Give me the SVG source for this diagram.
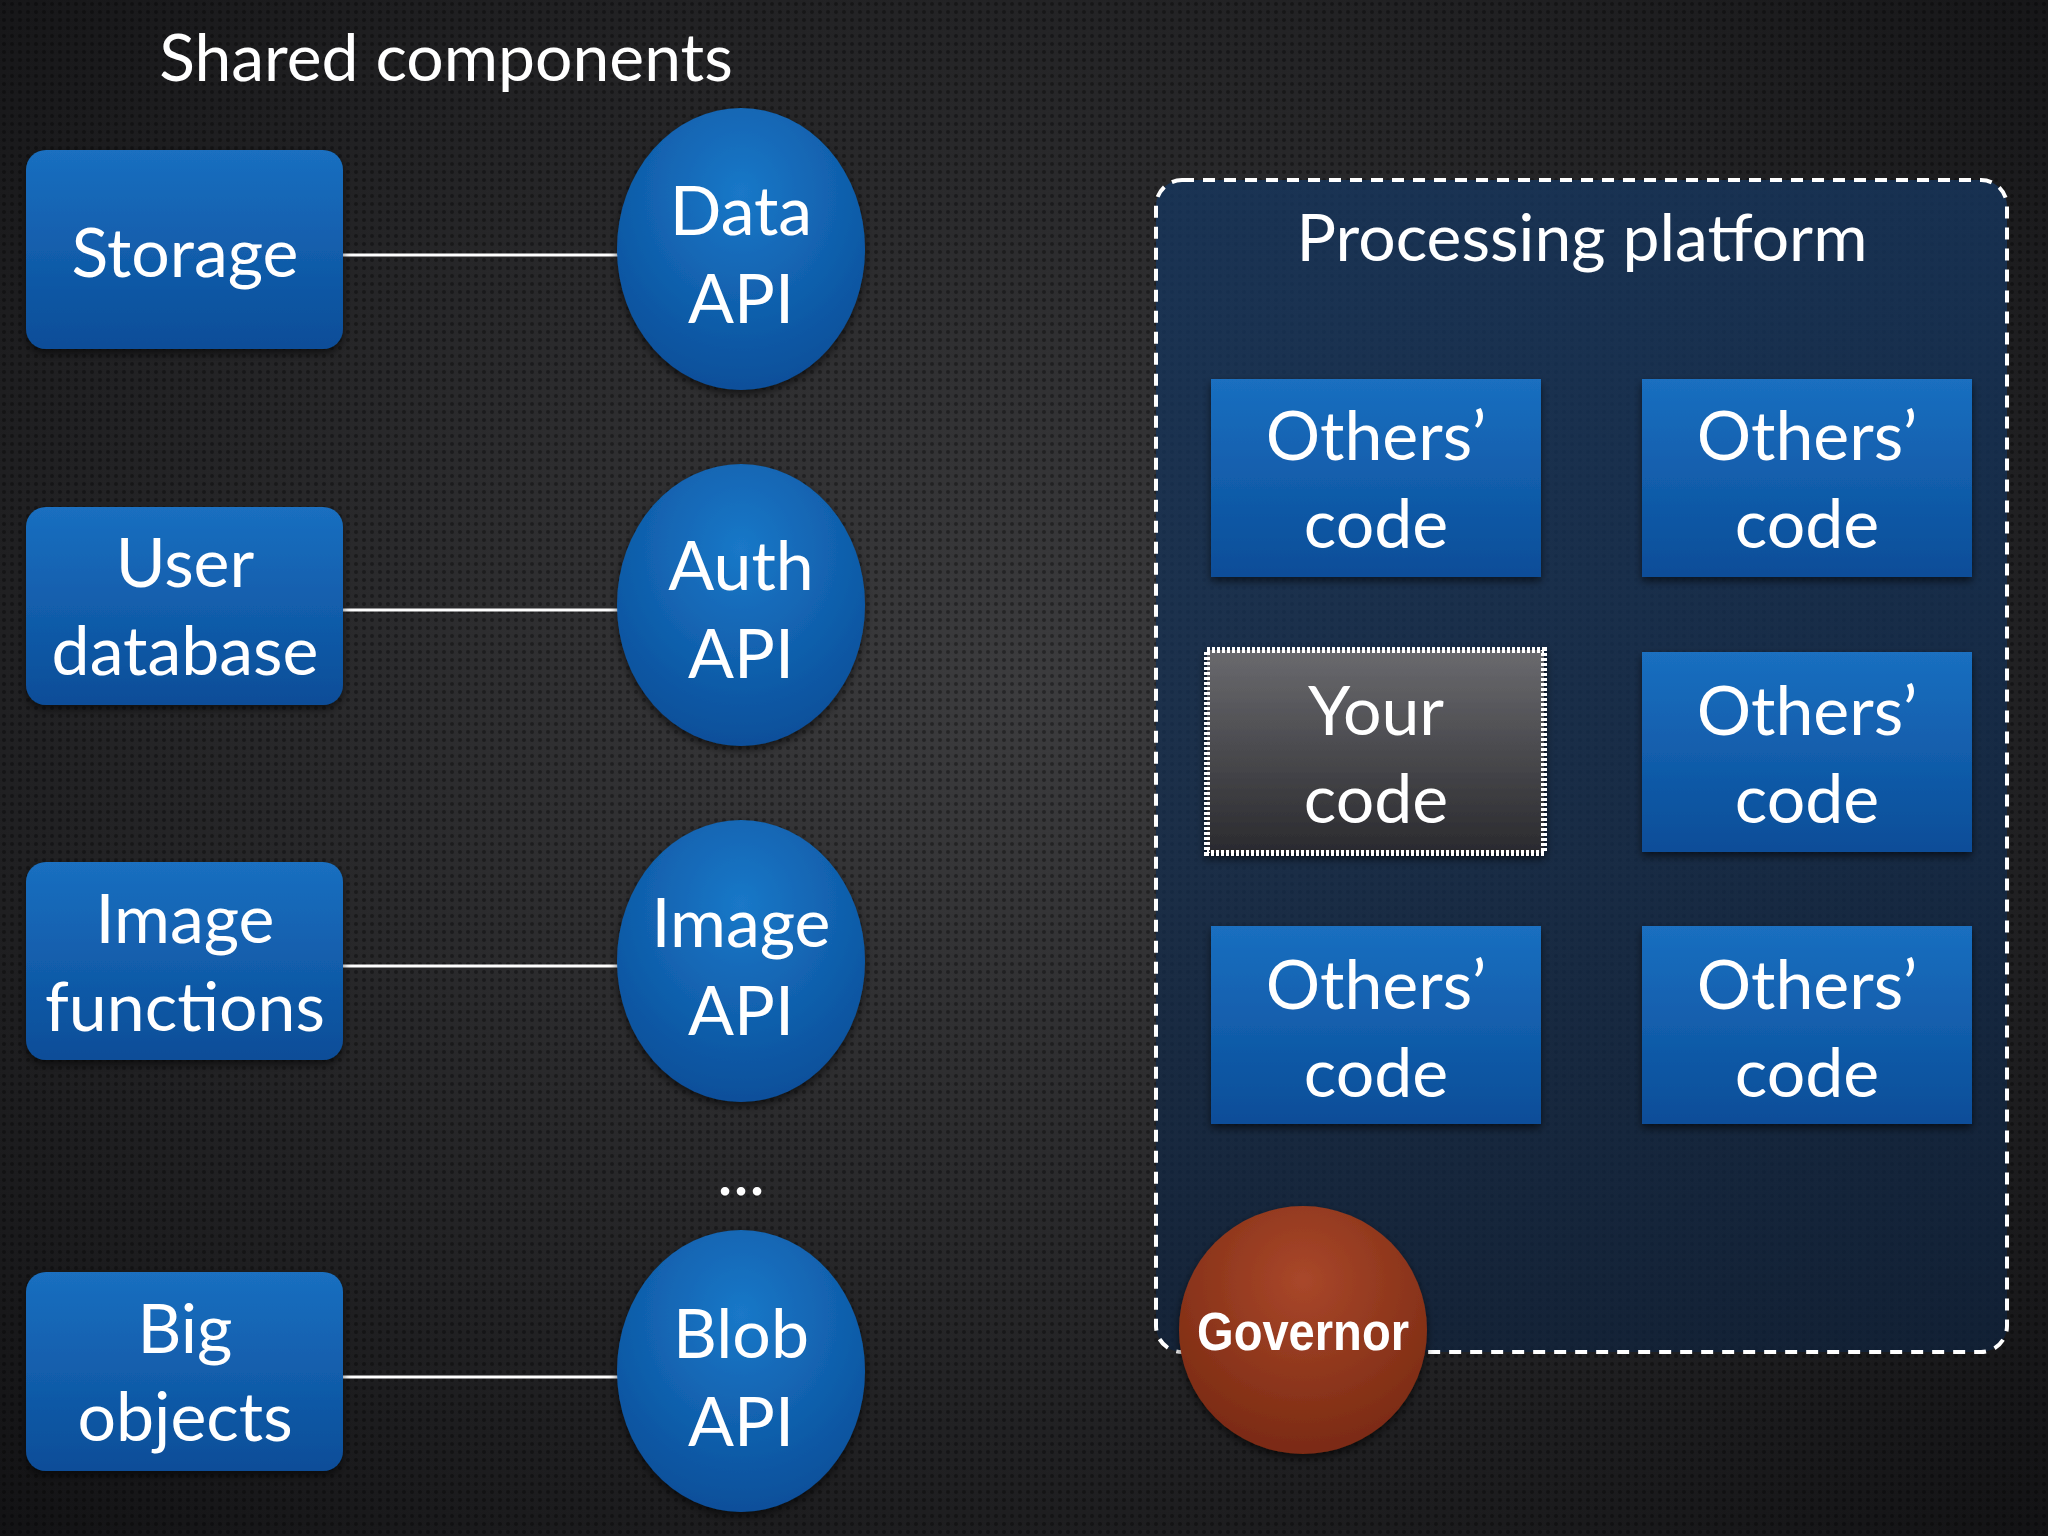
<svg xmlns="http://www.w3.org/2000/svg" width="2048" height="1536" viewBox="0 0 2048 1536">
<defs>
<radialGradient id="bg" cx="50%" cy="45%" r="75%"><stop offset="0" stop-color="#3c3c3e"/><stop offset="1" stop-color="#121214"/></radialGradient>
<pattern id="dots" width="8" height="8" patternUnits="userSpaceOnUse"><circle cx="4" cy="4" r="2" fill="#000" opacity="0.35"/></pattern>
<linearGradient id="blue" x1="0" y1="0" x2="0" y2="1"><stop offset="0" stop-color="#1a6fc0"/><stop offset="1" stop-color="#0a4d98"/></linearGradient>
<radialGradient id="ball" cx="50%" cy="30%" r="70%"><stop offset="0" stop-color="#1a78c8"/><stop offset="1" stop-color="#0a4f9a"/></radialGradient>
<linearGradient id="gray" x1="0" y1="0" x2="0" y2="1"><stop offset="0" stop-color="#6a6a6e"/><stop offset="1" stop-color="#2a2a2e"/></linearGradient>
<radialGradient id="gov" cx="50%" cy="30%" r="70%"><stop offset="0" stop-color="#a9472a"/><stop offset="1" stop-color="#7a2a12"/></radialGradient>
<linearGradient id="plat" x1="0" y1="0" x2="0" y2="1"><stop offset="0" stop-color="#16365e" stop-opacity="0.8"/><stop offset="1" stop-color="#0f2440" stop-opacity="0.7"/></linearGradient>
<filter id="sh"><feDropShadow dx="0" dy="4" stdDeviation="4" flood-color="#000" flood-opacity="0.6"/></filter>
</defs>
<style>
text{font-family:"Lato","Liberation Sans",sans-serif;fill:#fff;text-anchor:middle;font-size:68px}
.box{fill:url(#blue);filter:url(#sh)}
.ball{fill:url(#ball);filter:url(#sh)}
.ln{stroke:#fff;stroke-width:3}
</style>
<rect width="2048" height="1536" fill="url(#bg)"/>
<rect width="2048" height="1536" fill="url(#dots)"/>
<text x="446" y="81" style="font-size:66px">Shared components</text>
<g id="connectors">
<line class="ln" x1="343" y1="255" x2="618" y2="255"/>
<line class="ln" x1="343" y1="610" x2="618" y2="610"/>
<line class="ln" x1="343" y1="966" x2="618" y2="966"/>
<line class="ln" x1="343" y1="1377" x2="618" y2="1377"/>
</g>
<g id="storage"><rect class="box" x="26" y="150" width="317" height="199" rx="20"/><text x="185" y="277">Storage</text></g>
<g id="userdb"><rect class="box" x="26" y="507" width="317" height="198" rx="20"/><text x="185" y="587">User</text><text x="185" y="675">database</text></g>
<g id="imgfn"><rect class="box" x="26" y="862" width="317" height="198" rx="20"/><text x="185" y="943">Image</text><text x="185" y="1031">functions</text></g>
<g id="bigobj"><rect class="box" x="26" y="1272" width="317" height="199" rx="20"/><text x="185" y="1353">Big</text><text x="185" y="1441">objects</text></g>
<g id="dataapi"><ellipse class="ball" cx="741" cy="249" rx="124" ry="141"/><text x="741" y="235">Data</text><text x="741" y="323">API</text></g>
<g id="authapi"><ellipse class="ball" cx="741" cy="605" rx="124" ry="141"/><text x="741" y="590">Auth</text><text x="741" y="678">API</text></g>
<g id="imageapi"><ellipse class="ball" cx="741" cy="961" rx="124" ry="141"/><text x="741" y="947">Image</text><text x="741" y="1035">API</text></g>
<text x="741" y="1195">...</text>
<g id="blobapi"><ellipse class="ball" cx="741" cy="1371" rx="124" ry="141"/><text x="741" y="1358">Blob</text><text x="741" y="1446">API</text></g>
<g id="platform">
<rect x="1156" y="180" width="851" height="1172" rx="26" fill="url(#plat)" stroke="#fff" stroke-width="4" stroke-dasharray="12 9"/>
<text x="1582" y="261" style="font-size:66px">Processing platform</text>
</g>
<g id="o1"><rect class="box" x="1211" y="379" width="330" height="198"/><text x="1376" y="460">Others’</text><text x="1376" y="548">code</text></g>
<g id="o2"><rect class="box" x="1642" y="379" width="330" height="198"/><text x="1807" y="460">Others’</text><text x="1807" y="548">code</text></g>
<g id="yours"><rect x="1207" y="650" width="337" height="203" fill="url(#gray)" stroke="#fff" stroke-width="6" stroke-dasharray="3 2" filter="url(#sh)"/><text x="1376" y="735">Your</text><text x="1376" y="823">code</text></g>
<g id="o3"><rect class="box" x="1642" y="652" width="330" height="200"/><text x="1807" y="735">Others’</text><text x="1807" y="823">code</text></g>
<g id="o4"><rect class="box" x="1211" y="926" width="330" height="198"/><text x="1376" y="1009">Others’</text><text x="1376" y="1097">code</text></g>
<g id="o5"><rect class="box" x="1642" y="926" width="330" height="198"/><text x="1807" y="1009">Others’</text><text x="1807" y="1097">code</text></g>
<g id="governor"><circle cx="1303" cy="1330" r="124" fill="url(#gov)" filter="url(#sh)"/><text x="1303" y="1350" textLength="212" lengthAdjust="spacingAndGlyphs" style="font-family:'Liberation Sans',sans-serif;font-weight:bold;font-size:54px">Governor</text></g>
</svg>
